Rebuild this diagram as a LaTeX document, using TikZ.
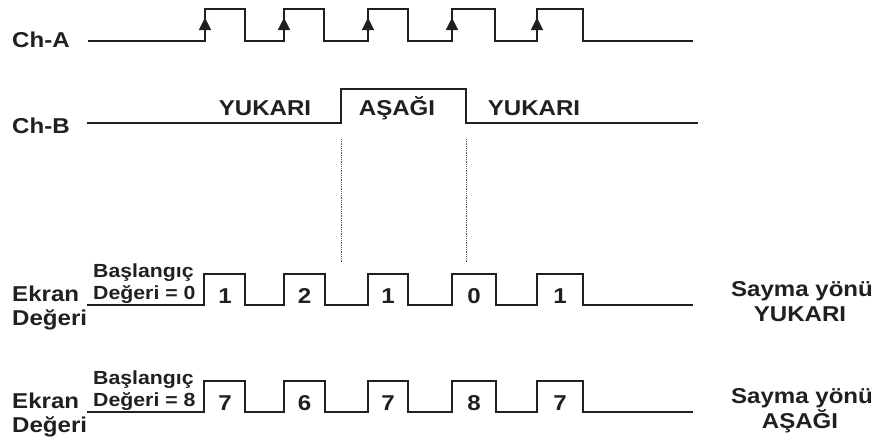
\documentclass[tikz,border=0pt]{standalone}
\usepackage{fontspec}
\setmainfont{Liberation Sans}[FakeStretch=1.12]
\definecolor{ink}{RGB}{35,31,32}
\begin{document}
\begin{tikzpicture}[x=1pt,y=-1pt,
  wave/.style={line width=2.6pt, line join=miter, draw=ink},
  big/.style={font=\bfseries\fontsize{21.5}{24}\selectfont, inner sep=0pt, text=ink},
  small/.style={font=\bfseries\fontsize{19}{21}\selectfont, inner sep=0pt, text=ink},
  guide/.style={line width=0.9pt, dash pattern=on 0.9pt off 0.9pt, draw=gray!70!black},
  tip/.style={fill=ink}]
\useasboundingbox (0,0) rectangle (890,437);

% ---------- Ch-A ----------
\node[big, anchor=base west] (cha) at (12,47.5) {Ch-A};
\draw[wave] (88,41) -- (205,41)
  -- (205,9) -- (245,9) -- (245,41) -- (284,41)
  -- (284,9) -- (324,9) -- (324,41) -- (368,41)
  -- (368,9) -- (408,9) -- (408,41) -- (452,41)
  -- (452,9) -- (495,9) -- (495,41) -- (537,41)
  -- (537,9) -- (583,9) -- (583,41) -- (693,41);
\foreach \x in {205,284,368,452,537}
  \fill[tip] (\x-6.2,30) -- (\x+6.2,30) -- (\x,17.5) -- cycle;

% ---------- Ch-B ----------
\node[big, anchor=base west] (chb) at (12,133) {Ch-B};
\draw[wave] (87,123) -- (341,123) -- (341,89) -- (466,89) -- (466,123) -- (698,123);
\node[big, anchor=base] (yuk1) at (265,115) {YUKARI};
\node[big, anchor=base] (asa) at (397,115) {AŞAĞI};
\node[big, anchor=base] (yuk2) at (534,115) {YUKARI};

% dotted guides
\coordinate (g1a) at (341,139); \coordinate (g1b) at (341,262);
\coordinate (g2a) at (466,139); \coordinate (g2b) at (466,262);
\draw[guide] (g1a) -- (g1b);
\draw[guide] (g2a) -- (g2b);

% ---------- Ekran rows ----------
\foreach \o/\s/\na/\nb/\nc/\nd/\ne/\dir in
   {0/0/1/2/1/0/1/YUKARI, 107/8/7/6/7/8/7/AŞAĞI}{
  \begin{scope}[yshift=-\o pt]
    \node[big, anchor=base west] (ek) at (12,301.7) {Ekran};
    \node[big, anchor=base west] (de) at (12,325.7) {Değeri};
    \node[small, anchor=base west] (bas) at (93,277) {Başlangıç};
    \node[small, anchor=base west] (ini) at (93,299) {Değeri = \s};
    \draw[wave] (87,305) -- (204,305)
      -- (204,274) -- (245,274) -- (245,305) -- (284,305)
      -- (284,274) -- (325,274) -- (325,305) -- (368,305)
      -- (368,274) -- (408,274) -- (408,305) -- (452,305)
      -- (452,274) -- (496,274) -- (496,305) -- (537,305)
      -- (537,274) -- (583,274) -- (583,305) -- (693,305);
    \node[big, anchor=base] at (225,303) {\na};
    \node[big, anchor=base] at (304.5,303) {\nb};
    \node[big, anchor=base] at (388,303) {\nc};
    \node[big, anchor=base] at (474,303) {\nd};
    \node[big, anchor=base] at (560,303) {\ne};
    \node[big, anchor=base] (say) at (802,296.7) {Sayma yönü};
    \node[big, anchor=base] (dirn) at (800,321.7) {\dir};
  \end{scope}
}
\end{tikzpicture}
\end{document}
